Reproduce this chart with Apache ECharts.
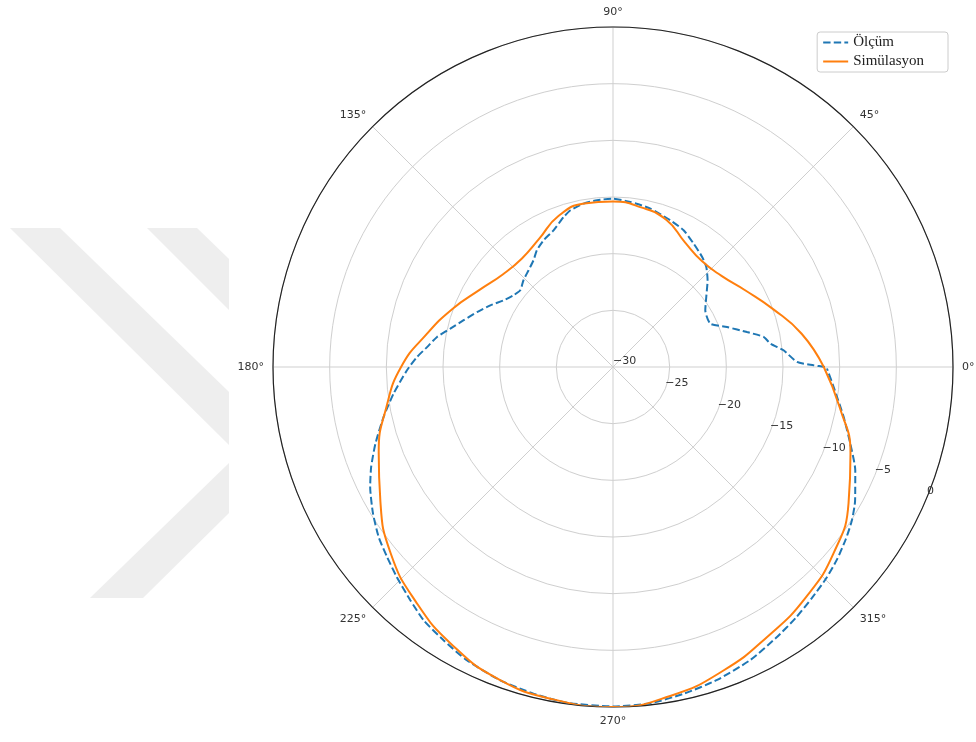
<!DOCTYPE html>
<html>
<head>
<meta charset="utf-8">
<script src="https://cdn.jsdelivr.net/npm/echarts@6/dist/echarts.min.js"></script>
<style>
html,body{margin:0;padding:0;background:#fff;}
#chart{width:976px;height:742px;}
</style>
</head>
<body>
<div id="chart"></div>
<script>
// ---- data ----
const seriesNames = ['Ölçüm', 'Simülasyon'];
const angleTicks = [0, 45, 90, 135, 180, 225, 270, 315];
const radiusTicks = [-30, -25, -20, -15, -10, -5, 0];

// Simülasyon (simulation), angle in degrees, value in dB
const simAngles = [0,10,20,30,40,50,60,70,80,90,100,110,120,130,140,150,160,170,180,
                   190,200,210,220,230,240,250,260,270,280,290,300,310,320,330,340,350,360];
const simValues = [-11.4,-13.1,-15.0,-16.5,-17.5,-17.8,-17.3,-16.2,-15.7,-15.4,-15.35,-15.85,-16.95,-17.5,-17.3,-16.4,-14.95,-13.3,-11.3,
                   -9.7,-8.0,-6.3,-4.4,-2.95,-1.66,-0.65,-0.2,0.0,-0.55,-1.5,-2.6,-3.5,-4.55,-6.0,-7.7,-9.7,-11.4];

// Ölçüm (measurement)
const measAngles = [0,0.5,1.6,5.6,8.5,11.3,14.6,19.3,24,31.6,36.9,42.5,47,51,56.8,62.7,68.7,76.7,84,90,
                    95.5,100.2,105.2,108.2,113.5,118.7,123.1,126.7,131.1,135.9,140.4,144.2,148.6,153.3,158,162.6,166.7,170.3,173.9,177.1,
                    180.9,186.9,192.3,197.9,202.5,206.3,211.4,216,220.1,224.2,229,233.2,238.2,243.5,250.2,256.3,262.2,270,
                    276.3,282.2,288.4,295.1,301,306,310.7,315.1,319.4,323.5,327.3,331.1,336.9,342.1,347.8,354.8,359.6];
const measValues = [-11.3,-12.3,-13.76,-14.88,-15.97,-16.45,-17.78,-19.34,-20.6,-20.44,-19.71,-18.68,-17.93,-17.5,-17.0,-16.42,-16.1,-15.64,-15.36,-15.14,
                    -15.22,-15.35,-15.67,-16.07,-16.85,-17.25,-17.7,-18.26,-18.67,-19.0,-19.38,-19.18,-18.7,-17.89,-17.06,-16.19,-15.25,-14.25,-13.5,-12.68,
                    -11.82,-10.5,-9.28,-7.97,-6.9,-6.1,-5.19,-4.45,-3.95,-3.4,-2.74,-2.1,-1.63,-1.09,-0.62,-0.34,-0.1,-0.05,
                    -0.15,-0.5,-0.9,-1.45,-2.1,-2.6,-3.1,-3.5,-3.95,-4.45,-4.95,-5.6,-6.76,-8.0,-9.18,-10.45,-11.12];

// ---- chart ----
const CX = 613, CY = 367, R = 340;
const chart = echarts.init(document.getElementById('chart'), null, {renderer: 'canvas'});
const minus = v => String(v).replace('-', '\u2212');

const option = {
  animation: false,
  backgroundColor: '#ffffff',
  textStyle: {fontFamily: 'DejaVu Sans'},
  graphic: [
    {type: 'polygon', z: -10, silent: true, shape: {points: [[10,228],[60,228],[229,392],[229,445]]}, style: {fill: '#eeeeee'}},
    {type: 'polygon', z: -10, silent: true, shape: {points: [[229,463],[229,513],[143,598],[90,598]]}, style: {fill: '#eeeeee'}},
    {type: 'polygon', z: -10, silent: true, shape: {points: [[147,228],[197,228],[229,259],[229,310]]}, style: {fill: '#eeeeee'}}
  ],
  polar: [
    {center: [CX, CY], radius: R},
    {center: [CX, CY], radius: R}
  ],
  angleAxis: [
    {
      polarIndex: 0, type: 'value', min: 0, max: 360, interval: 45,
      startAngle: 0, clockwise: false,
      axisLine: {show: true, lineStyle: {color: '#222', width: 1.2}},
      axisTick: {show: false},
      axisLabel: {margin: 9, color: '#333', fontSize: 11, fontFamily: 'DejaVu Sans',
                  formatter: v => angleTicks.indexOf(v) >= 0 ? v + '°' : ''},
      splitLine: {show: true, lineStyle: {color: '#cfcfcf', width: 1}}
    },
    {
      polarIndex: 1, type: 'value', min: 0, max: 360, interval: 45,
      startAngle: -22.5, clockwise: false, show: false
    }
  ],
  radiusAxis: [
    {
      polarIndex: 0, type: 'value', min: radiusTicks[0], max: radiusTicks[radiusTicks.length - 1], interval: 5,
      axisLine: {show: false}, axisTick: {show: false}, axisLabel: {show: false},
      splitLine: {show: true, lineStyle: {color: '#cfcfcf', width: 1}}
    },
    {
      polarIndex: 1, type: 'value', min: radiusTicks[0], max: radiusTicks[radiusTicks.length - 1], interval: 5,
      axisLine: {show: false}, axisTick: {show: false}, splitLine: {show: false},
      axisLabel: {show: true, margin: 0, align: 'left', verticalAlign: 'bottom',
                  color: '#333', fontSize: 11, fontFamily: 'DejaVu Sans', formatter: minus}
    }
  ],
  legend: {
    orient: 'vertical', right: 28, top: 32,
    data: seriesNames,
    itemWidth: 25, itemHeight: 14, itemGap: 4,
    padding: [3, 24, 3, 5],
    itemStyle: {opacity: 0},
    backgroundColor: '#fff', borderColor: '#cccccc', borderWidth: 1, borderRadius: 3,
    textStyle: {fontFamily: 'Liberation Serif', fontSize: 15, color: '#222'}
  },
  series: [
    {
      name: seriesNames[0], type: 'line', coordinateSystem: 'polar', polarIndex: 0,
      symbol: 'none', smooth: 0.2,
      data: measAngles.map((a, i) => [measValues[i], a]),
      lineStyle: {color: '#1f77b4', width: 2, type: [7.4, 3.2]},
      itemStyle: {color: '#1f77b4'}
    },
    {
      name: seriesNames[1], type: 'line', coordinateSystem: 'polar', polarIndex: 0,
      symbol: 'none', smooth: true,
      data: simAngles.map((a, i) => [simValues[i], a]),
      lineStyle: {color: '#ff7f0e', width: 2},
      itemStyle: {color: '#ff7f0e'}
    }
  ]
};
chart.setOption(option);
</script>
</body>
</html>
